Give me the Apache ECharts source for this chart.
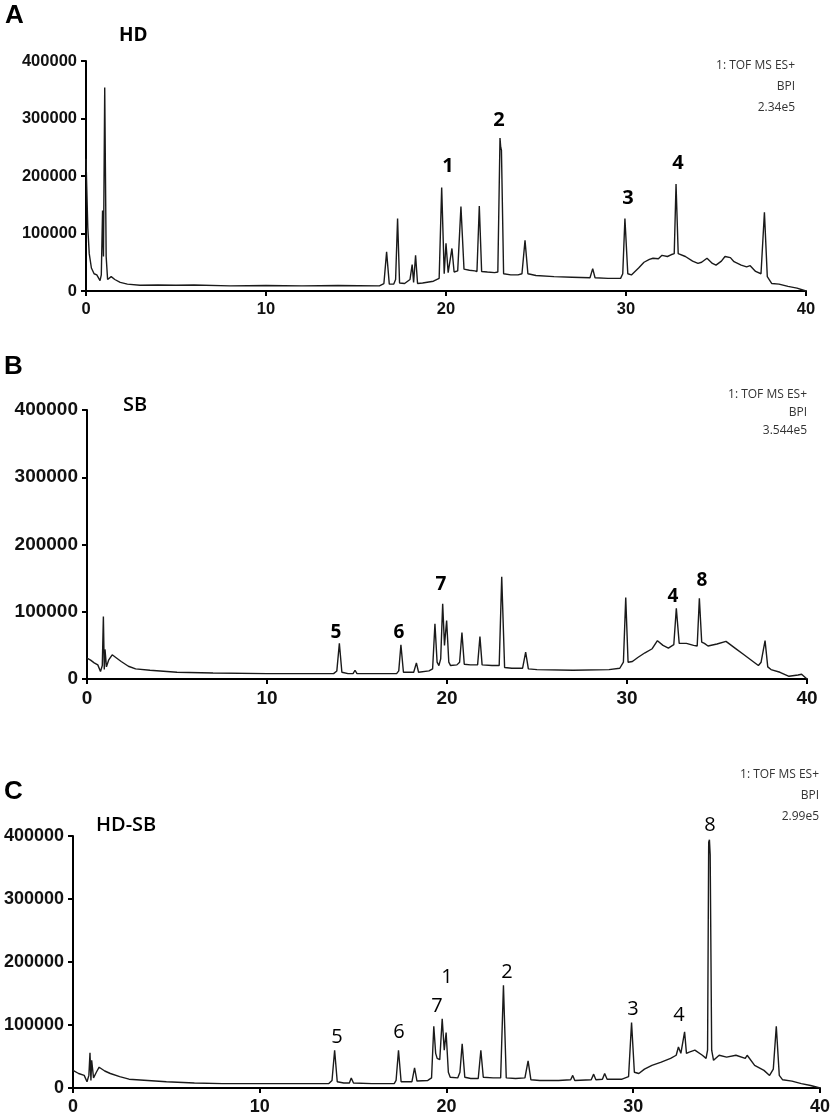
<!DOCTYPE html>
<html>
<head>
<meta charset="utf-8">
<script src="https://cdn.jsdelivr.net/npm/echarts@6/dist/echarts.min.js"></script>
<style>
  html, body { margin: 0; padding: 0; background: #fff; }
  #chart { width: 833px; height: 1117px; }
</style>
</head>
<body>
<div id="chart"></div>
<script>
// retention time (min) ticks and intensity ticks shared by all three panels
const timeTicks = [0, 10, 20, 30, 40];
const intensityTicks = [0, 100000, 200000, 300000, 400000];

// BPI chromatogram, panel A (HD): [time, intensity]
const hdTrace = [
  [0, 230000], [0.1, 110000], [0.18, 65000], [0.3, 40000], [0.45, 30000], [0.6, 28000],
  [0.7, 25000], [0.78, 18000], [0.85, 28000], [0.92, 140000], [0.97, 60000], [1.04, 354000],
  [1.12, 60000], [1.2, 20000], [1.3, 22000], [1.4, 25000], [1.6, 20000], [1.9, 15000],
  [2.3, 12000], [3, 10000], [4, 10500], [5, 10000], [6, 10500], [8, 9000], [10, 9500], [12, 9000],
  [14, 9500], [16.3, 9000], [16.55, 13000],
  [16.7, 68000], [16.85, 12000], [17.1, 12000], [17.2, 20000], [17.31, 126000], [17.42, 14000],
  [17.7, 13000], [18.0, 20000], [18.12, 46000], [18.2, 15000], [18.31, 62000], [18.42, 13000],
  [18.7, 14000], [19.3, 17000], [19.62, 22000], [19.76, 180000], [19.9, 30000], [20.0, 83000],
  [20.12, 32000], [20.2, 35000], [20.33, 74000], [20.45, 33000], [20.65, 35000], [20.83, 147000],
  [21.0, 38000], [21.3, 36000], [21.6, 35000], [21.72, 34000], [21.85, 148000], [21.98, 34000],
  [22.3, 33000], [22.7, 32000], [22.88, 33000], [23.0, 266000], [23.04, 250000], [23.08, 245000],
  [23.2, 30000], [23.6, 28000], [24.0, 28000], [24.22, 30000], [24.39, 88000], [24.55, 30000],
  [25, 27000], [26, 25000], [27, 24000], [28, 23000], [28.15, 39000], [28.28, 23000],
  [29, 22000], [29.7, 22000], [29.82, 30000], [29.94, 126000], [30.1, 30000], [30.3, 28000],
  [30.7, 40000], [31, 50000], [31.3, 55000], [31.5, 57000], [31.8, 56000], [32, 62000], [32.3, 60000],
  [32.5, 63000], [32.68, 65000],
  [32.78, 186000], [32.9, 65000], [33.3, 60000], [33.7, 52000], [34, 48000], [34.2, 50000], [34.5, 57000],
  [34.8, 48000], [35, 45000], [35.3, 52000], [35.5, 60000], [35.8, 58000], [36, 51000], [36.4, 45000],
  [36.7, 42000], [36.9, 44000],
  [37.2, 34000], [37.5, 30000], [37.69, 137000], [37.85, 25000], [38.1, 13000], [38.5, 12000],
  [39, 8000], [39.5, 5000], [40, 0]
];

// panel B (SB)
const sbTrace = [
  [0, 31000], [0.2, 28000], [0.4, 24000], [0.6, 21000], [0.75, 11000], [0.85, 20000],
  [0.91, 93000], [0.96, 14000], [1.0, 44000], [1.08, 18000], [1.2, 28000], [1.4, 36000],
  [1.6, 32000], [1.9, 26000], [2.3, 19000], [2.7, 15000], [3.5, 13000], [5, 10000],
  [7, 9000], [10, 8000], [13.7, 8000], [13.88, 12000], [14.02, 53000], [14.16, 10000],
  [14.5, 8000], [14.78, 8000], [14.89, 13000], [15.0, 8000], [16, 8000], [17.2, 8000],
  [17.32, 12000], [17.44, 51000], [17.58, 10000], [18.15, 10000], [18.3, 24000], [18.42, 10000],
  [19, 12000], [19.2, 15000], [19.33, 82000], [19.45, 25000], [19.55, 20000], [19.65, 30000],
  [19.76, 112000], [19.86, 50000], [19.98, 87000], [20.1, 25000], [20.2, 20000], [20.55, 21000],
  [20.7, 25000], [20.83, 69000], [20.96, 22000], [21.3, 21000], [21.7, 21000], [21.83, 63000],
  [21.95, 21000], [22.5, 20000], [22.9, 20000], [23.04, 152000], [23.2, 17000], [23.6, 16000],
  [24.2, 16000], [24.37, 40000], [24.52, 15000], [25, 14000], [27, 13000], [29, 14000],
  [29.6, 16000], [29.8, 25000], [29.93, 121000], [30.06, 25000], [30.3, 26000], [30.6, 32000],
  [31, 39000], [31.4, 45000], [31.69, 57000], [32, 50000], [32.3, 46000], [32.6, 51000],
  [32.74, 105000], [32.9, 53000], [33.3, 53000], [33.7, 50000], [33.9, 49000], [34.02, 120000],
  [34.15, 55000], [34.3, 53000], [34.5, 49000], [35, 52000], [35.5, 56000], [36, 46000],
  [36.5, 36000], [37, 26000], [37.3, 20000], [37.45, 25000], [37.67, 57000], [37.82, 18000],
  [38, 14000], [38.5, 10000], [39, 4000], [39.5, 6000], [39.7, 7000], [40, 0]
];

// panel C (HD-SB)
const hdsbTrace = [
  [0, 28000], [0.3, 23000], [0.6, 20000], [0.75, 10000], [0.85, 20000], [0.91, 56000],
  [0.96, 12000], [1.0, 44000], [1.1, 16000], [1.25, 25000], [1.4, 33000], [1.7, 27000],
  [2, 23000], [2.5, 18000], [3, 14000], [4, 12000], [5, 10000], [6.5, 8000], [8, 7000],
  [11, 7000], [13.7, 7000], [13.87, 12000], [14.01, 60000], [14.15, 10000], [14.5, 8000],
  [14.8, 8000], [14.9, 16000], [15.02, 8000], [16, 7000], [17.2, 7000], [17.3, 12000],
  [17.43, 60000], [17.57, 10000], [18.15, 10000], [18.29, 32000], [18.42, 11000], [19, 12000],
  [19.2, 16000], [19.32, 98000], [19.42, 55000], [19.5, 47000], [19.64, 45000], [19.77, 110000],
  [19.88, 60000], [19.98, 88000], [20.1, 25000], [20.2, 17000], [20.6, 16000], [20.72, 25000],
  [20.84, 70000], [20.98, 17000], [21.3, 15000], [21.7, 15000], [21.84, 60000], [21.97, 17000],
  [22.5, 16000], [22.9, 16000], [23.05, 163000], [23.2, 16000], [23.7, 15000], [24.2, 16000],
  [24.37, 43000], [24.52, 13000], [25, 12000], [26, 12000], [26.65, 13000], [26.76, 20000],
  [26.87, 12000], [27.75, 13000], [27.88, 22000], [28, 13000], [28.35, 14000], [28.47, 23000],
  [28.6, 14000], [29.4, 14000], [29.75, 18000], [29.91, 104000], [30.06, 25000], [30.3, 23000],
  [30.6, 30000], [31, 36000], [31.5, 41000], [32, 47000], [32.3, 52000], [32.42, 65000],
  [32.55, 55000], [32.65, 58000], [32.75, 89000], [32.85, 55000], [33, 57000], [33.3, 60000],
  [33.7, 52000], [33.9, 47000], [33.98, 60000], [34.04, 390000], [34.08, 394000], [34.12, 370000],
  [34.2, 60000], [34.3, 44000], [34.6, 52000], [35, 49000], [35.5, 52000], [36, 47000],
  [36.1, 52000], [36.5, 36000], [37, 28000], [37.3, 20000], [37.5, 30000], [37.66, 98000],
  [37.82, 20000], [38, 13000], [38.5, 11000], [39, 7000], [39.5, 4000], [40, 0]
];

const infoA = ['1: TOF MS ES+', 'BPI', '2.34e5'];
const infoB = ['1: TOF MS ES+', 'BPI', '3.544e5'];
const infoC = ['1: TOF MS ES+', 'BPI', '2.99e5'];

// grid boxes for the three panels
const panels = [
  { left: 86, top: 61, width: 720, height: 230, tickFont: 16.5, data: hdTrace },
  { left: 87, top: 410, width: 720, height: 269, tickFont: 19, data: sbTrace },
  { left: 73, top: 836, width: 748, height: 252, tickFont: 18, data: hdsbTrace }
];

const tickLabel = p => ({
  fontFamily: 'Liberation Sans, Arial', fontWeight: 'bold', fontSize: p.tickFont, color: '#111'
});

const option = {
  animation: false,
  backgroundColor: '#fff',
  grid: panels.map(p => ({ left: p.left, top: p.top, width: p.width, height: p.height })),
  xAxis: panels.map((p, i) => ({
    type: 'value', gridIndex: i, min: timeTicks[0], max: timeTicks[timeTicks.length - 1], interval: 10,
    axisLine: { lineStyle: { color: '#000', width: 2 } },
    axisTick: { show: true, length: 5, lineStyle: { color: '#000', width: 2 } },
    axisLabel: Object.assign(tickLabel(p), { margin: 10 }),
    splitLine: { show: false }
  })),
  yAxis: panels.map((p, i) => ({
    type: 'value', gridIndex: i, min: intensityTicks[0], max: intensityTicks[intensityTicks.length - 1], interval: 100000,
    axisLine: { show: true, lineStyle: { color: '#000', width: 2 } },
    axisTick: { show: true, length: 5, lineStyle: { color: '#000', width: 2 } },
    axisLabel: Object.assign(tickLabel(p), { margin: 9, formatter: v => String(v) }),
    splitLine: { show: false }
  })),
  series: panels.map((p, i) => ({
    type: 'line', xAxisIndex: i, yAxisIndex: i, data: p.data,
    symbol: 'none', sampling: null, clip: false,
    lineStyle: { color: '#1a1a1a', width: 1.4 }
  })),
  graphic: []
};

function txt(text, x, y, font, align, color) {
  return {
    type: 'text', z: 100,
    style: { text: text, x: x, y: y, font: font, align: align || 'center', verticalAlign: 'middle', fill: color || '#000' }
  };
}

const g = option.graphic;
// panel letters
g.push(txt('A', 5, 16, 'bold 26px "Liberation Sans", Arial', 'left'));
g.push(txt('B', 4, 367, 'bold 26px "Liberation Sans", Arial', 'left'));
g.push(txt('C', 4, 792, 'bold 26px "Liberation Sans", Arial', 'left'));
// sample titles
g.push(txt('HD', 119, 36, 'bold 19px "Open Sans"', 'left'));
g.push(txt('SB', 123, 405, '600 20px "Open Sans"', 'left'));
g.push(txt('HD-SB', 96, 825, '600 20px "Open Sans"', 'left'));
// acquisition info, right aligned
infoA.forEach((s, k) => g.push(txt(s, 795, 66 + k * 21, '12px "Open Sans"', 'right', '#333')));
infoB.forEach((s, k) => g.push(txt(s, 807, 395 + k * 18, '12px "Open Sans"', 'right', '#333')));
infoC.forEach((s, k) => g.push(txt(s, 819, 775 + k * 21, '12px "Open Sans"', 'right', '#333')));

// peak numbers
const peakFontA = 'bold 20px "Open Sans"';
[['1', 448, 166], ['2', 499, 120], ['3', 628, 198], ['4', 678, 163]]
  .forEach(p => g.push(txt(p[0], p[1], p[2], peakFontA)));
const peakFontB = 'bold 19px "Open Sans"';
[['5', 336, 633], ['6', 399, 633], ['7', 441, 585], ['4', 673, 597], ['8', 702, 581]]
  .forEach(p => g.push(txt(p[0], p[1], p[2], peakFontB)));
const peakFontC = '20px "Open Sans"';
[['5', 337, 1037], ['6', 399, 1032], ['7', 437, 1006], ['1', 447, 977], ['2', 507, 972],
 ['3', 633, 1009], ['4', 679, 1015], ['8', 710, 825]]
  .forEach(p => g.push(txt(p[0], p[1], p[2], peakFontC)));

const chart = echarts.init(document.getElementById('chart'));
chart.setOption(option);
</script>
</body>
</html>
